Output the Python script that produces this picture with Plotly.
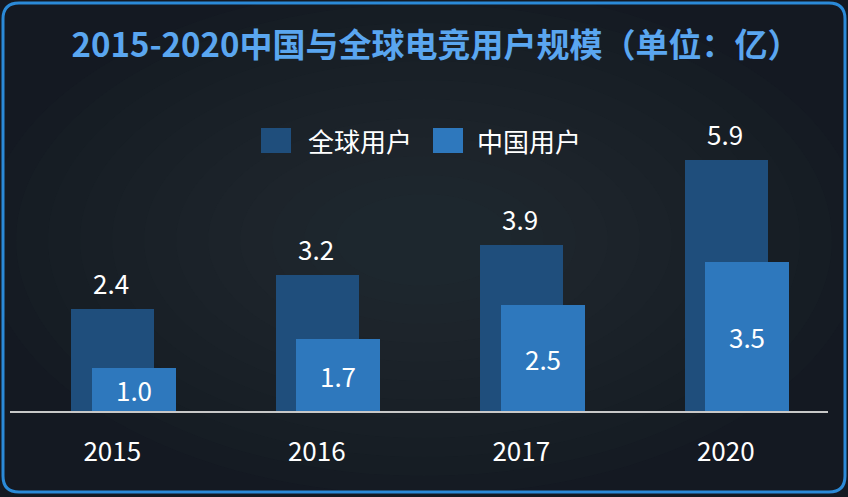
import plotly.graph_objects as go

# ---- data ----
years = ["2015", "2016", "2017", "2020"]
global_users = [2.4, 3.2, 3.9, 5.9]
china_users = [1.0, 1.7, 2.5, 3.5]
series_names = ["全球用户", "中国用户"]
title_text = "2015-2020中国与全球电竞用户规模（单位：亿）"

# ---- style ----
W, H = 848, 497
ML, MR, MT, MB = 10, 20, 100, 86
PW, PH = W - ML - MR, H - MT - MB
C_GLOBAL = "#1f4e7c"
C_CHINA = "#2e78bd"
BG = "#141922"
FONT = "Noto Sans CJK SC"


def px(x):
    return (x - ML) / PW


def py(y):
    return (H - MB - y) / PH


fig = go.Figure()
fig.add_trace(go.Bar(
    x=years, y=global_users, name=series_names[0],
    marker=dict(color=C_GLOBAL, line=dict(width=0)),
    width=0.405, offset=-0.2, showlegend=False, hoverinfo="skip",
))
fig.add_trace(go.Bar(
    x=years, y=china_users, name=series_names[1],
    marker=dict(color=C_CHINA, line=dict(width=0)),
    width=0.41, offset=-0.1, showlegend=False,
    text=[f"{v:.1f}" for v in china_users], textposition="inside",
    insidetextanchor="middle",
    textfont=dict(size=26, color="white", family=FONT),
    hoverinfo="skip",
))

annotations = []
for i, v in enumerate(global_users):
    annotations.append(dict(
        x=i, y=v, xref="x", yref="y", text=f"{v:.1f}", showarrow=False,
        yanchor="bottom", yshift=6, xshift=-1,
        font=dict(size=26, color="white", family=FONT),
    ))

shapes = []
# soft radial glow in background
for k in range(12):
    rx = 440 - k * 32
    ry = 255 - k * 19
    shapes.append(dict(type="circle", xref="paper", yref="paper", layer="below",
                       x0=px(424 - rx), x1=px(424 + rx), y0=py(240 + ry), y1=py(240 - ry),
                       fillcolor="rgba(60,75,95,0.035)", line=dict(width=0)))

# manual legend
legend_items = [(261, C_GLOBAL, series_names[0], 306), (433, C_CHINA, series_names[1], 475)]
for x0, col, name, tx in legend_items:
    shapes.append(dict(type="rect", xref="paper", yref="paper",
                       x0=px(x0), x1=px(x0 + 30), y0=py(153), y1=py(128),
                       fillcolor=col, line=dict(width=0)))
    annotations.append(dict(x=px(tx), y=py(140), xref="paper", yref="paper",
                            text=name, showarrow=False, xanchor="left", yanchor="middle",
                            font=dict(size=26, color="white", family=FONT)))

# rounded border
x0, y0, x1, y1, r = 3, 3, 845, 492, 16
path = (f"M {px(x0 + r)},{py(y0)} L {px(x1 - r)},{py(y0)} "
        f"Q {px(x1)},{py(y0)} {px(x1)},{py(y0 + r)} "
        f"L {px(x1)},{py(y1 - r)} Q {px(x1)},{py(y1)} {px(x1 - r)},{py(y1)} "
        f"L {px(x0 + r)},{py(y1)} Q {px(x0)},{py(y1)} {px(x0)},{py(y1 - r)} "
        f"L {px(x0)},{py(y0 + r)} Q {px(x0)},{py(y0)} {px(x0 + r)},{py(y0)} Z")
shapes.append(dict(type="path", xref="paper", yref="paper", path=path,
                   line=dict(color="#2b8ad8", width=3), layer="above"))

fig.update_layout(
    width=W, height=H,
    margin=dict(l=ML, r=MR, t=MT, b=MB),
    paper_bgcolor=BG, plot_bgcolor="rgba(0,0,0,0)",
    barmode="overlay", bargap=0,
    title=dict(text=f"<b>{title_text}</b>", x=436 / W, xanchor="center",
               y=1 - 45 / H, yanchor="middle", xref="container", yref="container",
               font=dict(size=33, color="#5aa6f0", family=FONT)),
    xaxis=dict(type="category", range=[-0.5, 3.5], showgrid=False, zeroline=False,
               showline=True, linecolor="#c8c8c8", linewidth=1.5,
               ticks="outside", ticklen=17, tickcolor="rgba(0,0,0,0)",
               tickfont=dict(size=26, color="white", family=FONT)),
    yaxis=dict(range=[0, PH / 42.6], visible=False, showgrid=False, zeroline=False),
    shapes=shapes, annotations=annotations,
    font=dict(family=FONT),
)

fig.write_html("out.html")
